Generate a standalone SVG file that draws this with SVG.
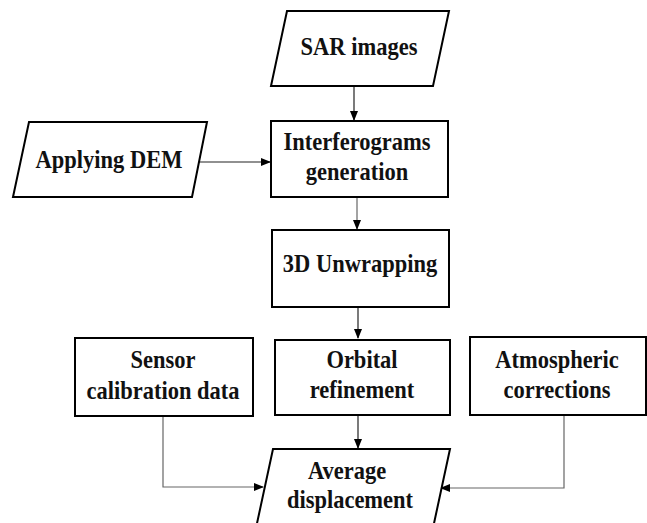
<svg xmlns="http://www.w3.org/2000/svg" width="647" height="523" viewBox="0 0 647 523">
<defs>
<style>
.box{fill:#fff;stroke:#000;stroke-width:2}
.t{font-family:"Liberation Serif","Times New Roman",serif;font-weight:bold;font-size:22.5px;text-anchor:middle;fill:#111}
.c{fill:none;stroke:#222;stroke-width:1.2}
.g{fill:none;stroke:#666;stroke-width:1.2}
</style>
<marker id="ah" markerWidth="10" markerHeight="8" refX="9" refY="4" orient="auto" markerUnits="userSpaceOnUse">
<path d="M0,0 L10,4 L0,8 Z" fill="#000"/>
</marker>
</defs>
<rect width="647" height="523" fill="#fff"/>
<g id="connectors">
<line class="c" x1="354" y1="86" x2="354" y2="120" marker-end="url(#ah)"/>
<line class="c" x1="200" y1="162" x2="270" y2="162" marker-end="url(#ah)"/>
<line class="g" x1="357" y1="197" x2="357" y2="229" marker-end="url(#ah)"/>
<line class="c" x1="358" y1="307" x2="358" y2="338" marker-end="url(#ah)"/>
<line class="c" x1="358" y1="415" x2="358" y2="448" marker-end="url(#ah)"/>
<polyline class="g" points="163,416 163,487 263,487" marker-end="url(#ah)"/>
<polyline class="g" points="564,415 564,488 441,488" marker-end="url(#ah)"/>
</g>
<g id="sar">
<polygon class="box" points="287,11 449,11 433,86 271,86"/>
<text class="t" transform="translate(359 55) scale(1 1.12)">SAR images</text>
</g>
<g id="dem">
<polygon class="box" points="29,122 207,122 192,197 13,197"/>
<text class="t" transform="translate(109 168) scale(1 1.12)">Applying DEM</text>
</g>
<g id="interferograms">
<rect class="box" x="271" y="121" width="177" height="76"/>
<text class="t" transform="translate(357 150) scale(1 1.12)">Interferograms</text>
<text class="t" transform="translate(357 180) scale(1 1.12)">generation</text>
</g>
<g id="unwrapping">
<rect class="box" x="272" y="230" width="177" height="77"/>
<text class="t" transform="translate(360 272) scale(1 1.12)">3D Unwrapping</text>
</g>
<g id="sensor">
<rect class="box" x="75" y="338" width="178" height="78"/>
<text class="t" transform="translate(163 368) scale(1 1.12)">Sensor</text>
<text class="t" transform="translate(163 399) scale(1 1.12)">calibration data</text>
</g>
<g id="orbital">
<rect class="box" x="275" y="340" width="175" height="75"/>
<text class="t" transform="translate(362 368) scale(1 1.12)">Orbital</text>
<text class="t" transform="translate(362 398) scale(1 1.12)">refinement</text>
</g>
<g id="atmospheric">
<rect class="box" x="470" y="337" width="176" height="78"/>
<text class="t" transform="translate(557 368) scale(1 1.12)">Atmospheric</text>
<text class="t" transform="translate(557 398) scale(1 1.12)">corrections</text>
</g>
<g id="average">
<polygon class="box" points="273,449 450,449 433,528 256,528"/>
<text class="t" transform="translate(347 479) scale(1 1.12)">Average</text>
<text class="t" transform="translate(350 508) scale(1 1.12)">displacement</text>
</g>
</svg>
